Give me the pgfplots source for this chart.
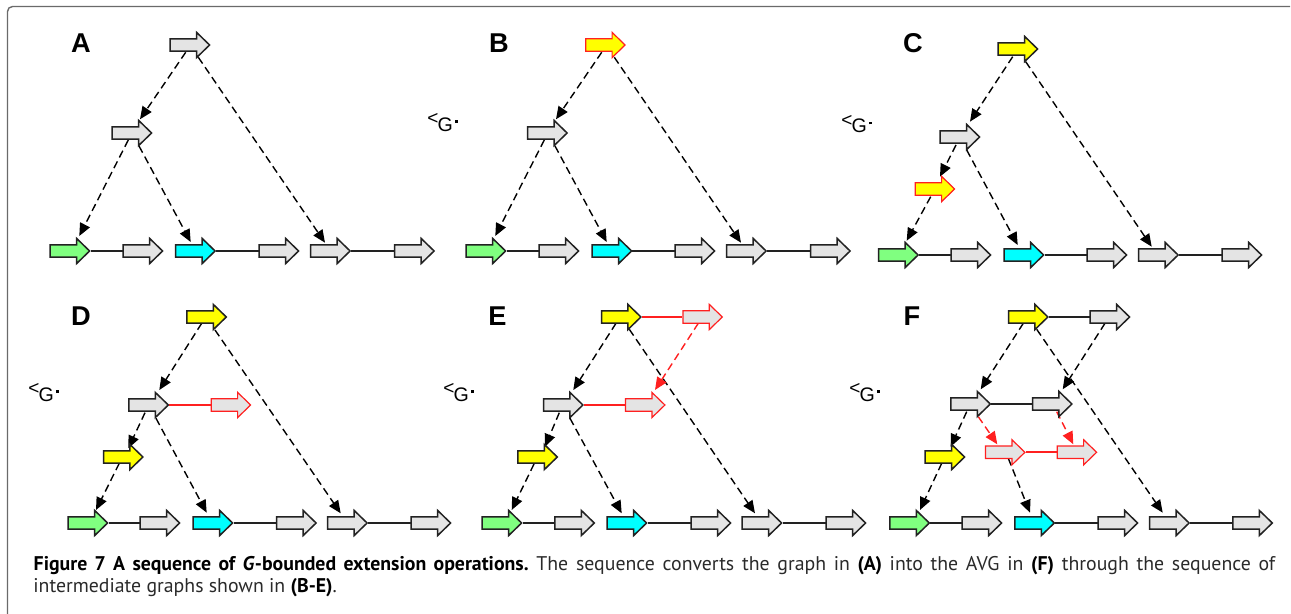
\documentclass[border=0pt]{standalone}
\usepackage{pgfplots}
\pgfplotsset{compat=1.18}
\usetikzlibrary{arrows.meta}
\usepackage{fontspec}
\setmainfont{Liberation Sans}
\newfontfamily\capfont{PT Sans}
\newfontfamily\gfont{DejaVu Sans}
\definecolor{genegray}{HTML}{E4E4E4}
\definecolor{outl}{HTML}{222222}
\definecolor{ggreen}{HTML}{80FF80}
\definecolor{gcyan}{HTML}{00FFFF}
\definecolor{gyellow}{HTML}{FFFF00}
\definecolor{gred}{HTML}{FF2020}
\definecolor{frame}{HTML}{6A6A6A}
\definecolor{captext}{HTML}{2A2A2A}
\pgfdeclareplotmark{gene}{%
  \pgfpathmoveto{\pgfqpoint{-9.9pt}{3.1pt}}%
  \pgfpathlineto{\pgfqpoint{3.3pt}{3.1pt}}%
  \pgfpathlineto{\pgfqpoint{3.3pt}{6.3pt}}%
  \pgfpathlineto{\pgfqpoint{9.8pt}{0pt}}%
  \pgfpathlineto{\pgfqpoint{3.3pt}{-6.3pt}}%
  \pgfpathlineto{\pgfqpoint{3.3pt}{-3.1pt}}%
  \pgfpathlineto{\pgfqpoint{-9.9pt}{-3.1pt}}%
  \pgfpathclose
  \pgfusepathqfillstroke}
\pgfplotsset{
  genes/.style={only marks, mark=gene, mark options={fill=#1, draw=outl, line width=0.75pt, line join=miter}},
  rgenes/.style={only marks, mark=gene, mark options={fill=#1, draw=gred, line width=0.6pt, line join=miter}},
  link/.style={outl, line width=1pt},
  rlink/.style={gred, line width=0.8pt},
  darr/.style={black, line width=0.7pt, dash pattern=on 3.8pt off 2.2pt, -{Triangle[length=6.3pt,width=5.4pt]}},
  rdarr/.style={gred, line width=0.7pt, dash pattern=on 3.8pt off 2.2pt, -{Triangle[length=6.3pt,width=5.4pt]}},
}
\newcommand{\precG}[2]{\node[anchor=base west, inner sep=0pt] at (axis cs:#1,#2) {\fontsize{9.8}{10}\selectfont\raisebox{3.4pt}{\fontsize{9.5}{9}\selectfont <}\hspace{-0.4pt}G\hspace{0.9pt}\rule[4.3pt]{1.4pt}{1.4pt}};}
\newcommand{\plabel}[3]{\node[inner sep=0pt] at (axis cs:#1,#2) {\fontsize{13.6}{14}\selectfont\bfseries #3};}
\begin{document}
\begin{tikzpicture}
\begin{axis}[width=645.5pt, height=307pt, scale only axis,
  xmin=0, xmax=1291, ymin=0, ymax=614, y dir=reverse,
  hide axis, clip=false]
% frame
\draw[frame, line width=0.7pt, rounded corners=2.5pt] (axis cs:7.5,614) -- (axis cs:7.5,6.5) -- (axis cs:1290,6.5);
% ---- solid links (black)
\addplot[link] coordinates {(90.5,251) (122.5,251)};
\addplot[link] coordinates {(216,251) (258.5,251)};
\addplot[link] coordinates {(351,251) (394,251)};
\addplot[link] coordinates {(506.5,251) (538.5,251)};
\addplot[link] coordinates {(632,251) (674.5,251)};
\addplot[link] coordinates {(767,251) (810,251)};
\addplot[link] coordinates {(919,255) (950.5,255)};
\addplot[link] coordinates {(1044.5,255) (1086.5,255)};
\addplot[link] coordinates {(1179,255) (1221.5,255)};
\addplot[link] coordinates {(108.5,523) (139.5,523)};
\addplot[link] coordinates {(233.5,523) (276,523)};
\addplot[link] coordinates {(368,523) (410.5,523)};
\addplot[link] coordinates {(522.5,523) (554.2,523)};
\addplot[link] coordinates {(647.5,523) (690.5,523)};
\addplot[link] coordinates {(782.5,523) (825.5,523)};
\addplot[link] coordinates {(930.2,523) (961.5,523)};
\addplot[link] coordinates {(1055.2,523) (1097.5,523)};
\addplot[link] coordinates {(1190,523) (1232.2,523)};
\addplot[link] coordinates {(1048.8,317) (1089.5,317)};
\addplot[link] coordinates {(991.2,404) (1031.8,404)};
% ---- red links
\addplot[rlink] coordinates {(169.2,405) (210.5,405)};
\addplot[rlink] coordinates {(641.8,317) (682.2,317)};
\addplot[rlink] coordinates {(583.8,405) (624.8,405)};
\addplot[rlink] coordinates {(1025.8,452.3) (1056.5,452.3)};
% ---- genes
\addplot[genes=genegray] coordinates {
 (190,45) (132,133) (143,251) (279,251) (330.5,251) (414.5,251)
 (547.5,133) (559,251) (695,251) (746.5,251) (830.5,251)
 (960,137) (971,255) (1107,255) (1158.5,255) (1242,255)
 (148.7,405) (160,523) (296.5,523) (347.5,523) (431,523)
 (563.3,405) (574.7,523) (711,523) (762,523) (846,523)
 (1110,317) (970.7,404) (1052.3,404) (982,523) (1118,523) (1169.5,523) (1252.7,523)};
\addplot[genes=ggreen] coordinates {(70,251) (486,251) (898.5,255) (88,523) (502,523) (909.7,523)};
\addplot[genes=gcyan] coordinates {(195.5,251) (612,251) (1024,255) (213,523) (627,523) (1034.7,523)};
\addplot[genes=gyellow] coordinates {(1018,49) (206.7,317) (123.3,457) (621.3,317) (537.7,457) (1028.3,317) (945,457)};
\addplot[rgenes=gyellow] coordinates {(605.5,45) (935,189)};
\addplot[rgenes=genegray] coordinates {(231,405) (702.7,317) (645.3,405) (1005.3,452.3) (1077,452.3)};
% ---- dashed arrows A
\addplot[darr] coordinates {(185.7,52.3) (140,119.3)};
\addplot[darr] coordinates {(198.3,57.3) (325,242.7)};
\addplot[darr] coordinates {(128.3,140) (79.3,236)};
\addplot[darr] coordinates {(139,146) (190.7,242)};
% B
\addplot[darr] coordinates {(601.7,52.3) (556,119.3)};
\addplot[darr] coordinates {(614.3,57.3) (741,242.7)};
\addplot[darr] coordinates {(544.3,140) (495.3,236)};
\addplot[darr] coordinates {(555,146) (606.7,242)};
% C
\addplot[darr] coordinates {(1012.7,56.7) (970,121.7)};
\addplot[darr] coordinates {(1025.7,61.7) (1151.7,246.7)};
\addplot[darr] coordinates {(956,145) (940,176.7)};
\addplot[darr] coordinates {(966.7,150) (1017.7,245)};
\addplot[darr] coordinates {(930.7,196.7) (906.7,240.7)};
% D
\addplot[darr] coordinates {(201.7,323.3) (159.3,390)};
\addplot[darr] coordinates {(215,330) (340.7,513.3)};
\addplot[darr] coordinates {(145,412.7) (128.3,448.3)};
\addplot[darr] coordinates {(156,418.3) (206.7,512.7)};
\addplot[darr] coordinates {(119.3,463.3) (96,510)};
% E
\addplot[darr] coordinates {(616,323.3) (573.3,390)};
\addplot[darr] coordinates {(629.3,329.3) (755,513.3)};
\addplot[rdarr] coordinates {(698.3,323.3) (655,390)};
\addplot[darr] coordinates {(559.3,412.7) (545,446.7)};
\addplot[darr] coordinates {(570,418.3) (621.7,513.3)};
\addplot[darr] coordinates {(534,464) (511.7,510)};
% F
\addplot[darr] coordinates {(1023.3,323.3) (980.7,389.3)};
\addplot[darr] coordinates {(1036.7,329.3) (1162.7,512.7)};
\addplot[darr] coordinates {(1105,323.3) (1062.7,389.3)};
\addplot[darr] coordinates {(966.7,411.7) (950.7,446.7)};
\addplot[rdarr] coordinates {(978.3,416.7) (997.3,444.3)};
\addplot[rdarr] coordinates {(1056.7,411.7) (1073.3,444.3)};
\addplot[darr] coordinates {(1008.3,458.3) (1030,512.7)};
\addplot[darr] coordinates {(941.7,463.3) (920,510)};
% ---- panel labels
\plabel{81}{43.5}{A}
\plabel{499}{43.5}{B}
\plabel{913}{43}{C}
\plabel{81}{316}{D}
\plabel{497.5}{316}{E}
\plabel{912}{316}{F}
% ---- <_G markers
\precG{427}{131.7}
\precG{841}{133}
\precG{28}{401.7}
\precG{443}{401.7}
\precG{849}{401.7}
% ---- caption
\node[anchor=base west, inner sep=0pt] at (axis cs:33.3,570) {\capfont\fontsize{9.9}{11}\selectfont\frenchspacing\makebox[620.8pt][s]{\textbf{Figure 7 A sequence of \textit{G}-bounded extension operations.} {\color{captext}The sequence converts the graph in} \textbf{(A)} {\color{captext}into the AVG in} \textbf{(F)} {\color{captext}through the sequence of}}};
\node[anchor=base west, inner sep=0pt] at (axis cs:33,592.7) {\capfont\fontsize{9.9}{11}\selectfont{\color{captext}intermediate graphs shown in} \textbf{(B-E)}{\color{captext}.}};
\coordinate (bl) at (axis cs:0,614);
\coordinate (tr) at (axis cs:1291,0);
\end{axis}
\pgfresetboundingbox
\path[use as bounding box] (bl) rectangle (tr);
\end{tikzpicture}
\end{document}
